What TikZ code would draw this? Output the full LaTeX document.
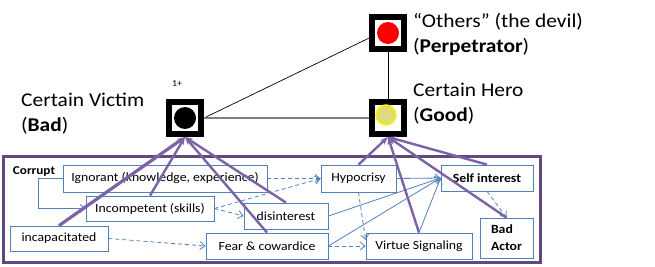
\documentclass[tikz,border=0pt]{standalone}
\usepackage{fontspec}
\setmainfont{Carlito}[FakeStretch=1.1]
\usepackage{tikz}
\usetikzlibrary{arrows.meta, positioning, calc}
\definecolor{boxblue}{HTML}{4F81BD}
\definecolor{grppurple}{HTML}{604A7B}
\definecolor{pullpurple}{HTML}{7B63A6}
\definecolor{dotyellow}{HTML}{DCDC78}

\begin{document}
\begin{tikzpicture}[x=1pt, y=-1pt, font=\fontsize{12.5}{15}\selectfont, >=Stealth,
    sbox/.style={rectangle, draw=boxblue, line width=0.8pt, inner sep=0pt,
      minimum height=26pt, align=center},
    role/.style={rectangle, draw=black, line width=6pt, minimum size=32pt,
      inner sep=0pt, fill=white},
    tag/.style={align=left, inner sep=0pt, font=\fontsize{19.5}{25}\selectfont},
    pull/.style={-{Stealth[length=8pt,width=6pt]}, line width=2.4pt, pullpurple},
    link/.style={-{Straight Barb[length=5pt,width=8pt]}, boxblue, line width=0.8pt},
    dlink/.style={link, dash pattern=on 4pt off 3pt},
  ]
    \useasboundingbox (0,0) rectangle (655,267);

    % the three roles
    \node[role] (per)  at (388,33)  {};
    \node[role] (vic)  at (185,118) {};
    \node[role] (hero) at (388,118) {};
    \fill[red] (per) circle[radius=11pt];
    \fill[black] (vic) circle[radius=11pt];
    \filldraw[fill=dotyellow, draw=yellow, line width=1.5pt] ([shift={(-2,-3)}]hero.center) circle[radius=10pt];

    \draw[line width=0.7pt] (vic.east) -- (per.195);
    \draw[gray, line width=1.4pt] (vic.east) -- (hero.west);
    \draw[line width=0.7pt] (per.south) -- (hero.north);

    \node[tag, anchor=north west] (perlbl)  at (413,13) {“Others” (the devil)\\(\textbf{Perpetrator})};
    \node[tag, anchor=north west] (herolbl) at (413,83) {Certain Hero\\(\textbf{Good})};
    \node[tag, anchor=north west] (viclbl)  at (21,93)  {Certain Victim\\(\textbf{Bad})};
    \node[font=\fontsize{9}{10}\selectfont] (count) at (177,84) {1+};

    % corrupt group
    \node[draw=grppurple, line width=3pt, minimum width=537pt, minimum height=106pt,
      inner sep=0pt] (grp) at (271.5,209) {};
    \node[font=\fontsize{12}{14}\selectfont\bfseries] (grplbl) at (34,172) {Corrupt};

    \node[sbox, minimum width=204pt, minimum height=27pt] (ign)   at (165,178.5) {Ignorant (knowledge, experience)};
    \node[sbox, minimum width=128pt, minimum height=25pt] (inc)   at (150,208.5) {Incompetent (skills)};
    \node[sbox, minimum width=84pt]                       (dis)   at (286,216)   {disinterest};
    \node[sbox, minimum width=98pt, minimum height=25pt]  (incap) at (59,238.5)  {incapacitated};
    \node[sbox, minimum width=122pt]                      (fear)  at (267,246)   {Fear \& cowardice};
    \node[sbox, minimum width=75pt, minimum height=27pt]  (hyp)   at (358.5,178.5) {Hypocrisy};
    \node[sbox, minimum width=106pt]                      (vs)    at (419,246)   {Virtue Signaling};
    \node[sbox, minimum width=92pt]                       (self)  at (487,178)   {\textbf{Self interest}};
    \node[sbox, minimum width=53pt, minimum height=40pt, font=\fontsize{12.5}{17}\selectfont\bfseries,
      align=left] (bad) at (506.5,238) {Bad\\Actor};

    % inside the group
    \draw[link] (ign.west) -- ++(-24,0) |- (inc.west);
    \foreach \a/\b in {ign/hyp, inc/hyp, inc/dis, incap/fear, fear/vs} {
      \draw[dlink] (\a.east) -- (\b.west);
    }
    \draw[dlink] (hyp.south) -- ([yshift=6pt]vs.west);
    \draw[dlink] (self.south) -- (bad.north);
    \foreach \a/\p in {hyp/east, dis/east, fear/east, vs/north} {
      \draw[link] (\a.\p) -- (self.west);
    }

    % up to the roles
    \draw[pull, line width=3.2pt] (incap.north) -- (vic.south);
    \foreach \a in {inc, dis, fear} {
      \draw[pull] (\a.north) -- (vic.south);
    }
    \foreach \a in {hyp, vs, self, bad} {
      \draw[pull] (\a.north) -- (hero.south);
    }
  \end{tikzpicture}
\end{document}
